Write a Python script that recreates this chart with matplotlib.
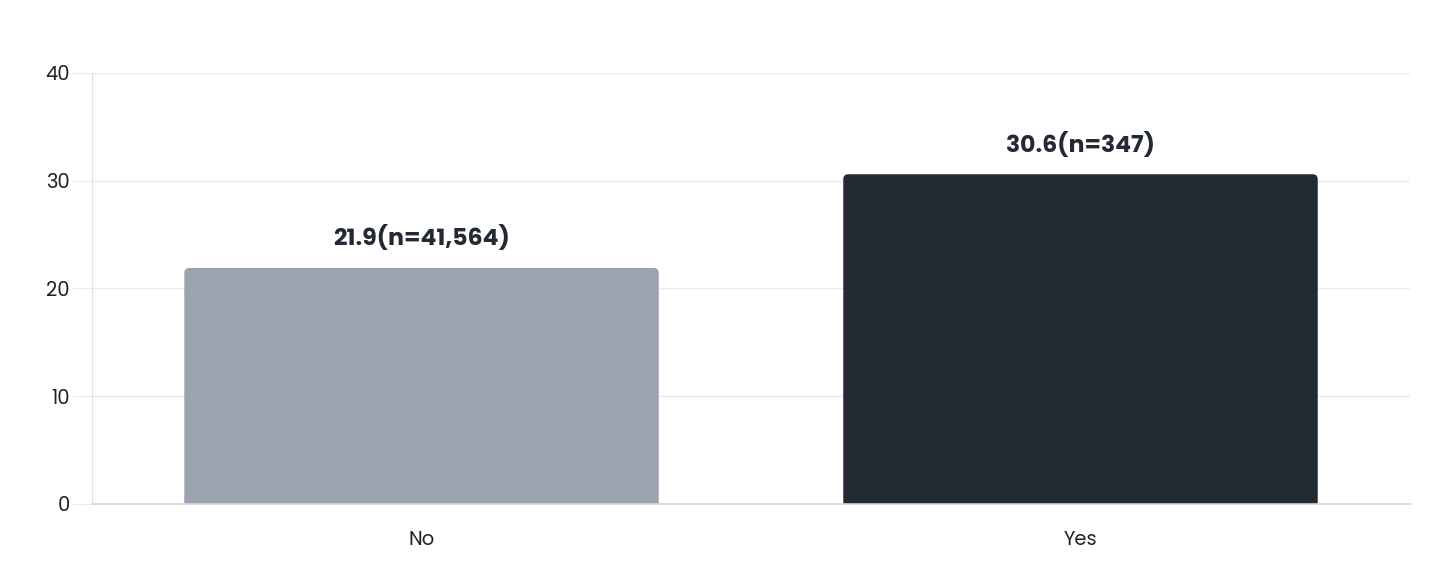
import matplotlib.pyplot as plt
from matplotlib.patches import FancyBboxPatch

categories = ['No', 'Yes']
values = [21.9, 30.6]
counts = ['41,564', '347']
bar_colors = ['#9ca3b0', '#232a34']
yticks = [0, 10, 20, 30, 40]

plt.rcParams['font.family'] = ['Poppins', 'Inter', 'DejaVu Sans']

fig = plt.figure(figsize=(14.56, 5.88), dpi=100)
ax = fig.add_axes([0.0632, 0.1429, 0.9052, 0.7330])

x = list(range(len(categories)))
bars = ax.bar(x, values, width=0.72, color=bar_colors, zorder=3)

# corner radius of ~5 px, converted into data units on both axes
rx = 5 * 2 / 1318
ry = 5 * 40 / 431

# swap the plain rectangles for ones with slightly rounded tops;
# the box starts below zero so the axes clip away the bottom corners
for b, c in zip(bars, bar_colors):
    b.set_visible(False)
    bx = b.get_x()
    w, h = b.get_width(), b.get_height()
    patch = FancyBboxPatch((bx, -2 * ry), w, h + 2 * ry,
                           boxstyle=f'round,pad=0,rounding_size={rx}',
                           mutation_aspect=ry / rx,
                           facecolor=c, edgecolor='none', linewidth=0, zorder=3)
    ax.add_patch(patch)

for xi, v, n in zip(x, values, counts):
    ax.annotate(f'{v}(n={n})', (xi, v), xytext=(0, 12), textcoords='offset points',
                ha='center', va='bottom', fontsize=17, fontweight='bold',
                color='#232a34')

ax.set_xlim(-0.5, 1.5)
ax.set_ylim(0, 40)
ax.set_yticks(yticks)
ax.set_xticks(x)
ax.set_xticklabels(categories)
ax.tick_params(axis='y', length=14, color='#ebebeb', labelsize=14, labelcolor='#222222', pad=2)
ax.tick_params(axis='x', length=0, labelsize=14, labelcolor='#222222', pad=19)
ax.grid(axis='y', color='#ebebeb', linewidth=1, zorder=0)
for s in ['top', 'right']:
    ax.spines[s].set_visible(False)
ax.spines['left'].set_color('#e0e0e0')
ax.spines['bottom'].set_color('#d6d6d6')
ax.spines['bottom'].set_linewidth(1.2)
ax.spines['bottom'].set_zorder(4)

fig.savefig('out.png', dpi=100, facecolor='white')
